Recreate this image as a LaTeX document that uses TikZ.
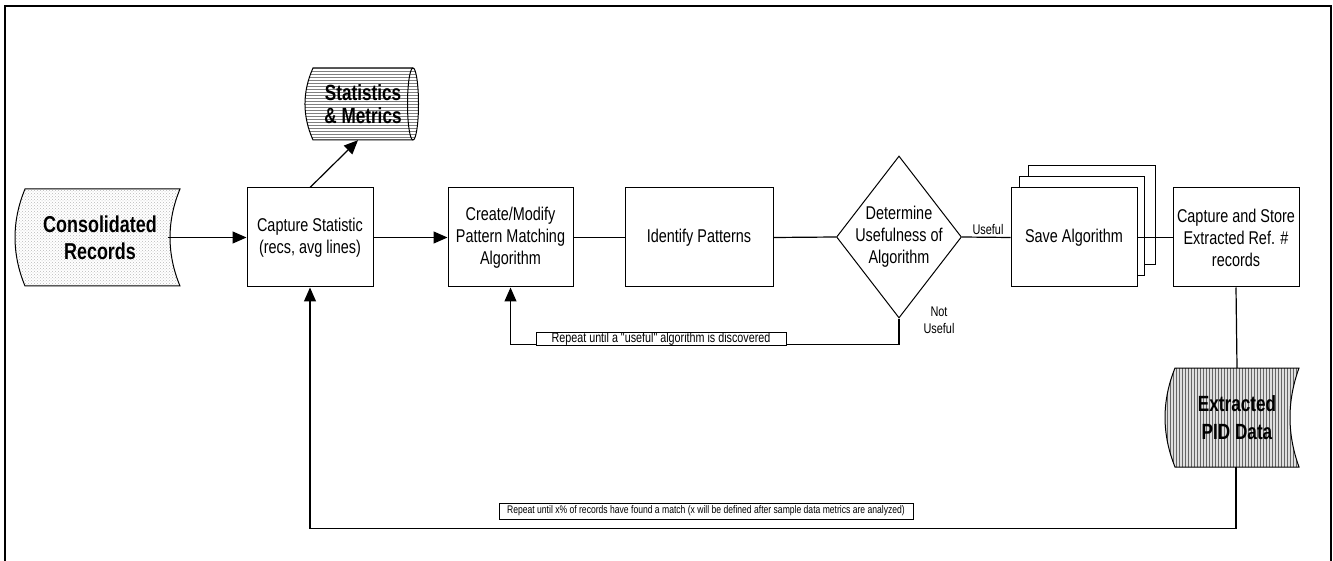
\documentclass[tikz,border=0pt]{standalone}
\usepackage{fontspec}
\setmainfont{Liberation Sans}
\newfontfamily\nf{Liberation Sans}[FakeStretch=0.78]
\usetikzlibrary{arrows.meta,patterns,backgrounds,shapes.geometric}
\begin{document}
\begin{tikzpicture}[x=1pt,y=-1pt,
  box/.style={draw, line width=1pt, fill=white, minimum width=126pt, minimum height=99pt,
    inner sep=0pt, align=center, font=\nf\fontsize{18.5}{22}\selectfont},
  decision/.style={draw, diamond, line width=1pt, minimum width=125pt, minimum height=162pt, inner sep=0pt},
  txt/.style={align=center, inner sep=0pt, font=\nf\fontsize{18.5}{22}\selectfont},
  bigtxt/.style={align=center, inner sep=0pt, font=\nf\bfseries\fontsize{23}{27}\selectfont},
  small/.style={align=center, inner sep=0pt, font=\nf\fontsize{14}{17}\selectfont},
  lbl/.style={draw, fill=white, line width=1pt, inner sep=0pt, align=center},
  ln/.style={line width=1.2pt},
  arr/.style={line width=1.2pt, -{Triangle[length=14pt,width=12pt]}},
  shapeline/.style={line width=1pt}]
\useasboundingbox (0,0) rectangle (1333,561);
% frame
\draw[line width=1.5pt] (5,561) -- (5,6) -- (1331,6) -- (1331,561);

% data shapes (text nodes)
\node[bigtxt, minimum width=155pt, minimum height=97pt] (cons) at (100,237.5) {Consolidated\\Records};
\node[bigtxt, font=\nf\bfseries\fontsize{22}{23}\selectfont, minimum width=100pt, minimum height=72pt] (stats) at (363,104) {Statistics\\\& Metrics};
\node[bigtxt, font=\nf\bfseries\fontsize{22}{28}\selectfont, minimum width=124pt, minimum height=99pt] (ext) at (1237,417.5) {Extracted\\PID Data};

\begin{scope}[on background layer]
  \draw[shapeline, pattern=crosshatch dots, pattern color=gray!55]
    (25,189) -- (180,189) .. controls (166.7,221) and (166.7,254) .. (180,286)
    -- (25,286) .. controls (11.7,254) and (11.7,221) .. (25,189) -- cycle;
  \draw[shapeline, pattern=horizontal lines, pattern color=gray]
    (313,68) -- (413,68) arc(-90:90:5.5 and 36) -- (313,140)
    .. controls (302.3,116) and (302.3,92) .. (313,68) -- cycle;
  \draw[shapeline] (413,68) arc(-90:-270:5.5 and 36);
  \fill[gray!25] (1175,368) -- (1299,368) .. controls (1287,401) and (1287,434) .. (1299,467)
    -- (1175,467) .. controls (1161.7,434) and (1161.7,401) .. (1175,368) -- cycle;
  \draw[shapeline, pattern=vertical lines, pattern color=gray!80!black]
    (1175,368) -- (1299,368) .. controls (1287,401) and (1287,434) .. (1299,467)
    -- (1175,467) .. controls (1161.7,434) and (1161.7,401) .. (1175,368) -- cycle;
\end{scope}

% process boxes
\node[box] (cap) at (310,237.5) {Capture Statistic\\(recs, avg lines)};
\node[box, minimum width=125pt] (cre) at (510.5,237.5) {Create/Modify\\Pattern Matching\\Algorithm};
\node[box, minimum width=148pt] (idp) at (699,237.5) {Identify Patterns};
\node[decision] (dec) at (899,237) {};
\node[txt] at (dec) {Determine\\Usefulness of\\Algorithm};
\node[box, minimum width=127pt] (sv3) at (1091.5,215.5) {};
\node[box, minimum width=125pt] (sv2) at (1081.5,226) {};
\node[box] (sv) at (1074,237.5) {Save Algorithm};
\node[box] (sto) at (1236,237.5) {Capture and Store\\Extracted Ref. \#\\records};

% connectors
\draw[arr] ([xshift=-10pt]cons.east) -- (cap.west);
\draw[arr] (cap.north) -- ([xshift=-5pt]stats.south);
\draw[arr] (cap.east) -- (cre.west);
\draw[ln] (cre.east) -- (idp.west);
\draw[ln] (idp.east) -- (dec.west);
\draw[ln] (dec.east) -- (sv.west);
\node[small] at (988,229) {Useful};
\draw[ln] (sv.east) -- (sto.west);
\draw[ln] (sto.south) -- (ext.north);

% loop 1
\draw[arr] (dec.south) -- ++(0,26) -| (cre.south);
\node[small] at (939,320) {Not\\Useful};
\node[lbl, minimum width=250pt, minimum height=13pt, font=\nf\fontsize{13.8}{13}\selectfont] (l1) at (661,338.5) {Repeat until a "useful" algorithm is discovered};

% loop 2
\draw[arr] ([xshift=-1pt]ext.south) -- ++(0,61) -| (cap.south);
\node[lbl, minimum width=414pt, minimum height=16pt, font=\nf\fontsize{11}{12}\selectfont] (l2) at (706,511) {Repeat until x\% of records have found a match (x will be defined after sample data metrics are analyzed)};
\end{tikzpicture}
\end{document}
